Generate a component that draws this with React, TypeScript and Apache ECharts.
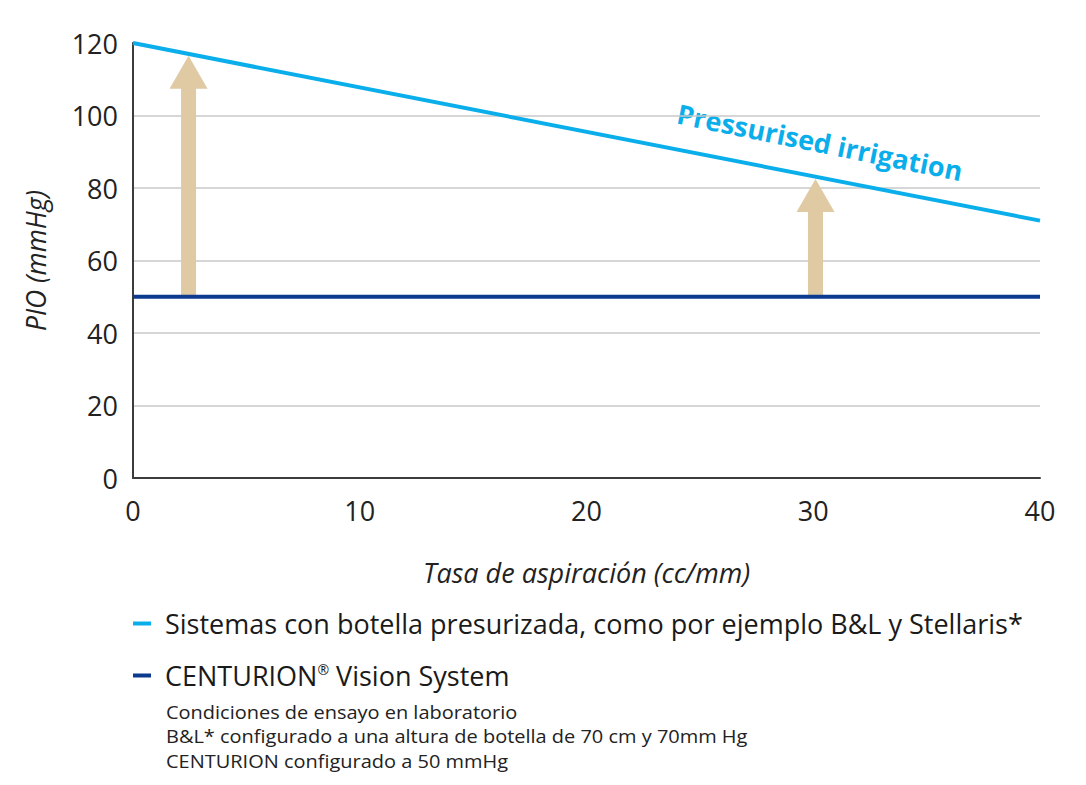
import React, { useEffect, useRef } from "react";
import * as echarts from "echarts";

const xTicks = [0, 10, 20, 30, 40];
const pressurisedData: [number, number][] = [[0, 120], [40, 71]];
const centurionData: [number, number][] = [[0, 50], [40, 50]];
const arrowData: [number, number, number][] = [[2.45, 50, 116.5], [30.1, 50, 82.5]];
const seriesNames = [
  "Sistemas con botella presurizada, como por ejemplo B&L y Stellaris*",
  "CENTURION® Vision System",
];
const footnoteLines = [
  "Condiciones de ensayo en laboratorio",
  "B&L* configurado a una altura de botella de 70 cm y 70mm Hg",
  "CENTURION configurado a 50 mmHg",
];
const annotationText = "Pressurised irrigation";

const FONT = "'Open Sans', 'Noto Sans', sans-serif";

export default function App() {
  const ref = useRef<HTMLDivElement>(null);
  useEffect(() => {
    if (!ref.current) return;
    const chart = echarts.init(ref.current, undefined, { renderer: "svg" });
    chart.setOption({
      animation: false,
      textStyle: { fontFamily: FONT },
      grid: { left: 133, right: 46, top: 43, bottom: 307 },
      xAxis: {
        type: "value",
        min: 0,
        max: 40,
        interval: 10,
        name: "Tasa de aspiración (cc/mm)",
        nameLocation: "middle",
        nameGap: 81,
        nameTextStyle: { fontSize: 27, fontStyle: "italic", color: "#222", fontFamily: FONT },
        axisLine: { show: true, lineStyle: { color: "#3c3c3c", width: 2 } },
        axisTick: { show: false },
        splitLine: { show: false },
        axisLabel: { fontSize: 27, color: "#222", margin: 19, fontFamily: FONT },
      },
      yAxis: {
        type: "value",
        min: 0,
        max: 120,
        interval: 20,
        name: "PIO (mmHg)",
        nameLocation: "middle",
        nameGap: 84,
        nameRotate: 90,
        nameTextStyle: { fontSize: 26.5, fontStyle: "italic", color: "#222", fontFamily: FONT },
        axisLine: { show: true, lineStyle: { color: "#3c3c3c", width: 2 } },
        axisTick: { show: false },
        splitLine: {
          show: true,
          lineStyle: {
            color: ["#c8c8c8", "#c8c8c8", "#c8c8c8", "#c8c8c8", "#c8c8c8", "#c8c8c8", "rgba(0,0,0,0)"],
            width: 1.5,
          },
        },
        axisLabel: { fontSize: 27, color: "#222", margin: 15, fontFamily: FONT },
      },
      legend: {
        orient: "vertical",
        left: 128,
        top: 605,
        itemWidth: 18,
        itemHeight: 4,
        itemGap: 25,
        icon: "rect",
        formatter: (name: string) => name.replace("®", "{sup|®}"),
        textStyle: {
          fontSize: 27,
          color: "#1a1a1a",
          fontFamily: FONT,
          padding: [0, 0, 0, 9],
          rich: {
            sup: { fontSize: 14, verticalAlign: "top", padding: [0, 0, 10, 0], color: "#1a1a1a", fontFamily: FONT },
          },
        },
        data: seriesNames,
      },
      series: [
        {
          type: "custom",
          name: "arrows",
          z: 1,
          data: arrowData,
          encode: { x: 0, y: [1, 2] },
          renderItem: (params: any, api: any) => {
            const x = api.value(0);
            const b = api.coord([x, api.value(1)]);
            const t = api.coord([x, api.value(2)]);
            const sw = 7.5;
            const hw = 19;
            const hh = 33;
            return {
              type: "polygon",
              shape: {
                points: [
                  [b[0] - sw, b[1]],
                  [b[0] - sw, t[1] + hh],
                  [b[0] - hw, t[1] + hh],
                  [b[0], t[1]],
                  [b[0] + hw, t[1] + hh],
                  [b[0] + sw, t[1] + hh],
                  [b[0] + sw, b[1]],
                ],
              },
              style: { fill: "#dfcaa4" },
            };
          },
        },
        {
          type: "line",
          name: seriesNames[0],
          data: pressurisedData,
          symbol: "none",
          z: 3,
          color: "#0aaeea",
          lineStyle: { color: "#0aaeea", width: 4 },
        },
        {
          type: "line",
          name: seriesNames[1],
          data: centurionData,
          symbol: "none",
          z: 3,
          color: "#0b3a8f",
          lineStyle: { color: "#0b3a8f", width: 4 },
        },
      ],
      graphic: [
        {
          type: "text",
          x: 820,
          y: 142,
          rotation: (-11.5 * Math.PI) / 180,
          style: {
            text: annotationText,
            fontSize: 27,
            fontWeight: "bold",
            fontFamily: FONT,
            fill: "#0aaeea",
            align: "center",
            verticalAlign: "middle",
          },
        },
        ...footnoteLines.map((line, i) => ({
          type: "text",
          x: 166,
          y: 712 + i * 24.6,
          scaleX: 1.11,
          style: {
            text: line,
            fontSize: 18,
            fontFamily: FONT,
            fill: "#222",
            align: "left",
            verticalAlign: "middle",
          },
        })),
      ],
    });
    return () => chart.dispose();
  }, []);
  return <div ref={ref} style={{ width: 1086, height: 785, position: "absolute", left: 0, top: 0 }} />;
}
